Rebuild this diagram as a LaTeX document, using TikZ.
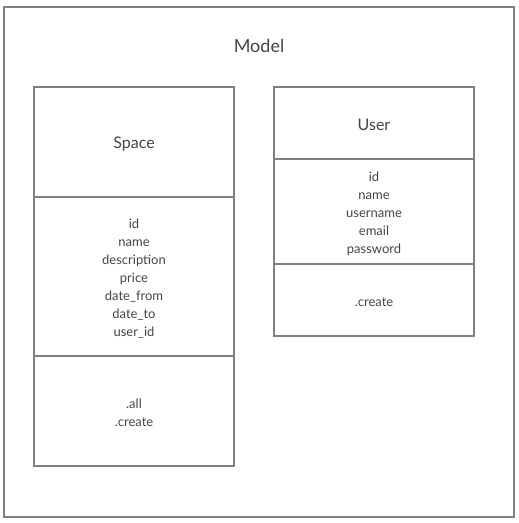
\documentclass[tikz,border=0pt]{standalone}
\usepackage{fontspec}
\setmainfont{Lato}
\usepackage{tikz}
\usetikzlibrary{positioning}
\definecolor{framegray}{HTML}{808080}
\definecolor{textgray}{HTML}{444444}

\begin{document}
\begin{tikzpicture}[x=1pt,y=-1pt,
    part/.style={draw=framegray,line width=1.5pt,rectangle,outer sep=0pt,
        minimum width=200pt,inner sep=0pt},
    fields/.style={align=center,text=textgray,yshift=-2pt,
        font=\fontsize{13}{18}\selectfont},
    title/.style={fields,font=\fontsize{16}{18}\selectfont}]
\useasboundingbox (0,0) rectangle (519,523);
\node[draw=framegray,line width=1.5pt,rectangle,minimum width=510pt,
    minimum height=510pt,inner sep=0pt] (model) at (259,262) {};
\node[text=textgray,font=\fontsize{18}{18}\selectfont] (modellabel) at (259,46) {Model};
% Space
\node[part,minimum height=110pt,label={[title]center:Space}] (spacehead) at (134,142) {};
\node[part,minimum height=159pt,below=0pt of spacehead,
    label={[fields]center:id\\name\\description\\price\\date\_from\\date\_to\\user\_id}] (spaceattr) {};
\node[part,minimum height=110pt,below=0pt of spaceattr,
    label={[fields]center:.all\\.create}] (spacemeth) {};
% User
\node[part,minimum height=72pt,label={[title]center:User}] (userhead) at (374,123) {};
\node[part,minimum height=105pt,below=0pt of userhead,
    label={[fields]center:id\\name\\username\\email\\password}] (userattr) {};
\node[part,minimum height=72pt,below=0pt of userattr,
    label={[fields]center:.create}] (usermeth) {};
\end{tikzpicture}
\end{document}
